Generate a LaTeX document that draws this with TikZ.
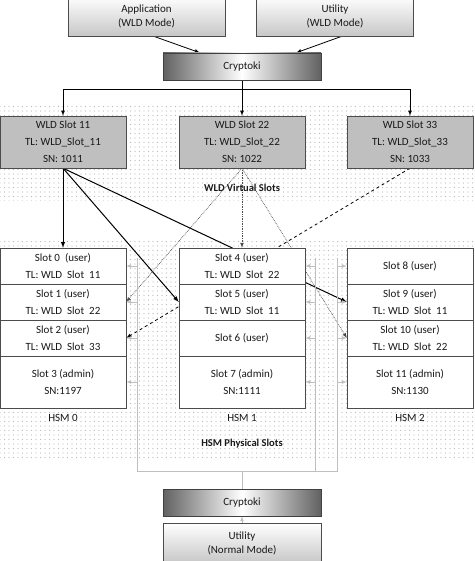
\documentclass[tikz,border=0pt]{standalone}
\usepackage{fontspec}
\setmainfont{Carlito}
\usetikzlibrary{arrows.meta}
\usetikzlibrary{patterns.meta}
\usetikzlibrary{calc}
\tikzset{>=latex}
\pgfdeclarelayer{back}
\pgfdeclarelayer{wires}
\pgfsetlayers{back,wires,main}

\begin{document}
\begin{tikzpicture}[x=1pt,y=-1pt,
		every node/.style={font=\fontsize{11}{14}\selectfont,text=black!90},
		appbox/.style={draw=black!70,top color=white,bottom color=black!22,minimum width=157pt,minimum height=40pt,align=center},
		crypbox/.style={draw=black!75,left color=black!62,right color=black!62,middle color=white,minimum width=158pt,minimum height=27pt},
		wldbox/.style={draw=black!70,fill=black!25,minimum width=126pt,minimum height=52pt,align=center,font=\fontsize{11}{17}\selectfont},
		slotbox/.style={draw=black!70,fill=white,minimum width=126pt,align=center,font=\fontsize{11}{17}\selectfont},
		region/.style={pattern={Dots[distance=4.5pt,radius=0.6pt]},pattern color=black!28},
		link/.style={->,line width=0.8pt,black},
		vlink/.style={->,densely dotted,line width=0.7pt,black!70},
		bus/.style={black!25,line width=0.7pt}]
	\useasboundingbox (0,0) rectangle (474,561);
	\def \topy {142}
	\def \busy {471}
%-----Boxes on top-----
	\node[appbox] (app) at (146.5,16) {Application\\(WLD Mode)};
	\node[appbox] (util) at (335,16) {Utility\\(WLD Mode)};
	\node[crypbox] (cryp) at (242,66.5) {Cryptoki};
	\foreach \n/\x in {11/63,22/242,33/410}
		{
			\node[wldbox] (w\n) at (\x,\topy) {WLD Slot \n\\TL: WLD\_Slot\_\n\\SN: 10\n};
		}
	\node[font=\bfseries\fontsize{10.5}{12}\selectfont] (wldtitle) at (242,188) {WLD Virtual Slots};
%-----The HSM slots-----
	\foreach \s/\x/\y/\h/\t in {
			0/63/266/36/{Slot 0\ \ (user)\\TL: WLD\ \ Slot\ \ 11},
			1/63/302/36/{Slot 1 (user)\\TL: WLD\ \ Slot\ \ 22},
			2/63/338/36/{Slot 2 (user)\\TL: WLD\ \ Slot\ \ 33},
			3/63/382/52/{Slot 3 (admin)\\SN:1197},
			4/242/266/36/{Slot 4 (user)\\TL: WLD\ \ Slot\ \ 22},
			5/242/302/36/{Slot 5 (user)\\TL: WLD\ \ Slot\ \ 11},
			6/242/338/36/{Slot 6 (user)},
			7/242/382/52/{Slot 7 (admin)\\SN:1111},
			8/410/266/36/{Slot 8 (user)},
			9/410/302/36/{Slot 9 (user)\\TL: WLD\ \ Slot\ \ 11},
			10/410/338/36/{Slot 10 (user)\\TL: WLD\ \ Slot\ \ 22},
			11/410/382/52/{Slot 11 (admin)\\SN:1130}}
		{
			\node[slotbox,minimum height=\h pt] (s\s) at (\x,\y) {\t};
		}
	\foreach \h/\x in {0/63,1/242,2/410}
		{
			\node (hsm\h) at (\x,418) {HSM \h};
		}
	\node[font=\bfseries\fontsize{10.5}{12}\selectfont] (hsmtitle) at (242,444) {HSM Physical Slots};
%-----Boxes at the bottom-----
	\node[crypbox] (cryp2) at (242,502.5) {Cryptoki};
	\node[appbox,minimum width=158pt] (util2) at (242,543) {Utility\\(Normal Mode)};
%-----Dotted regions-----
	\begin{pgfonlayer}{back}
		\fill[region] (0,105) rectangle (474,200);
		\fill[region] (0,240) rectangle (474,458);
	\end{pgfonlayer}
%-----Draw the arrows here-----
	\begin{pgfonlayer}{wires}
		\draw[link] ([xshift=7pt]app.south) -- ([xshift=-42pt]cryp.north);
		\draw[link] ([xshift=7pt]util.south) -- ([xshift=54pt]cryp.north);
		\coordinate (split) at ($(cryp.south)+(0,9)$);
		\draw[line width=0.8pt] (cryp.south) -- (split);
		\draw[link] (split) -| (w11.north);
		\draw[link] (split) -- (w22.north);
		\draw[link] (split) -| (w33.north);
		\draw[link,line width=1pt] (w11.south) -- (s0.north);
		\draw[link,line width=1pt] (w11.south) -- (s5.west);
		\draw[link,line width=1pt] (w11.south) -- (s9.west);
		\draw[vlink] (w22.south) -- (s4.north);
		\draw[vlink] (w22.south) -- (s1.east);
		\draw[vlink] (w22.south) -- (s10.west);
		\draw[link,dashed] (w33.south) -- (s2.east);%WLD Slot 33 to Slot 2
		%the gray lines from the lower Cryptoki
		\coordinate (busC) at (242,\busy);
		\coordinate (busL) at (137,\busy);
		\coordinate (busM) at (315,\busy);
		\coordinate (busR) at (337,\busy);
		\coordinate (topL) at (137,258);
		\coordinate (topM) at (315,258);
		\coordinate (topR) at (337,258);
		\draw[bus] (cryp2.north) -- (busC);
		\draw[bus] (topL) -- (busL) -- (busR) -- (topR);
		\draw[bus] (busM) -- (topM);
		\foreach \s in {0,...,3}
			\draw[bus,->] (busL |- s\s.east) -- (s\s.east);
		\foreach \s in {4,...,7}
			\draw[bus,->] (busM |- s\s.east) -- (s\s.east);
		\foreach \s in {8,...,11}
			\draw[bus,->] (busR |- s\s.west) -- (s\s.west);
		\draw[bus,->] (util2.north) -- (cryp2.south);
	\end{pgfonlayer}
\end{tikzpicture}
\end{document}
